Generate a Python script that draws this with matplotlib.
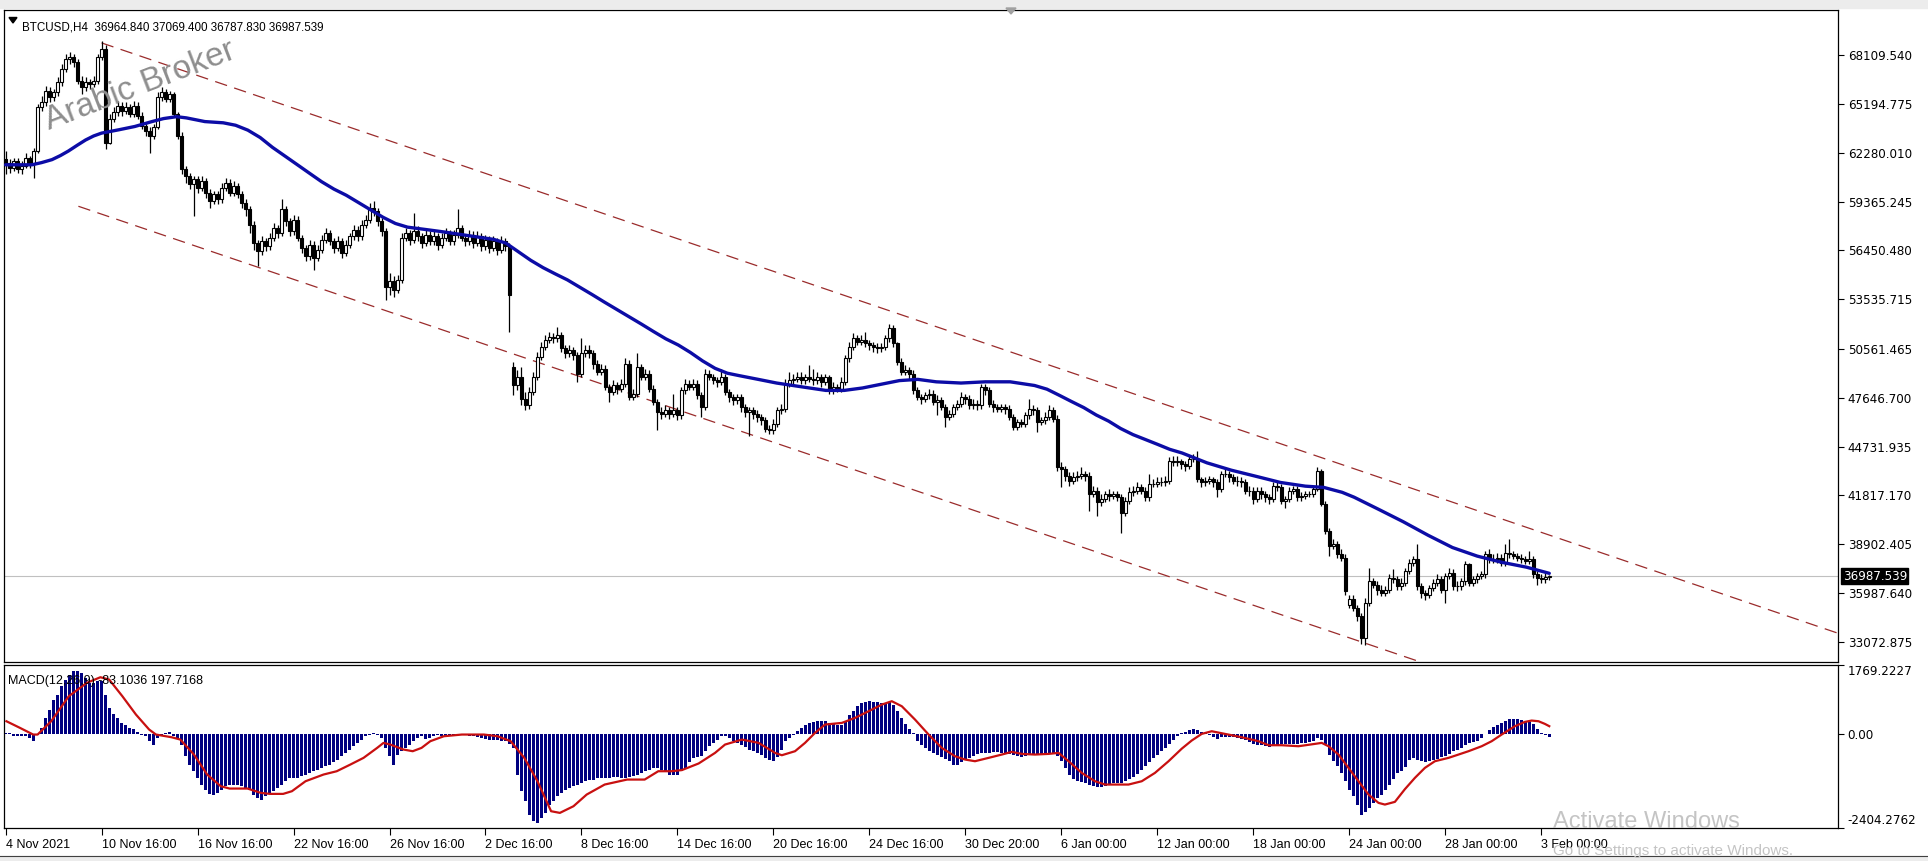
import matplotlib
matplotlib.use("Agg")
import matplotlib.pyplot as plt
import matplotlib.transforms as mtransforms
from matplotlib.patches import Rectangle, Polygon
import numpy as np

# ---------------- DATA ----------------
opens = [
61900, 61700, 61400, 61800, 61300, 61500, 61950, 61600, 62400, 65000,
65300, 66000, 65600, 65900, 66500, 67300, 67900, 68000, 67700, 66600,
66200, 66500, 66400, 66600, 68000, 68500, 62900, 64300, 64700, 65100,
64800, 65000, 64600, 65100, 64500, 63900, 63600, 63300, 63800, 65600,
65900, 65500, 65800, 64600, 63300, 61300, 60900, 60400, 60700, 60200,
60600, 59900, 59400, 59800, 59500, 60200, 60500, 59900, 60300, 59800,
59300, 58900, 58000, 56900, 56400, 57000, 56700, 57200, 57800, 57500,
58900, 58200, 57600, 58300, 57200, 56600, 56100, 56800, 56000, 56500,
57100, 57500, 57000, 56600, 57000, 56300, 56800, 57300, 57700, 57300,
58000, 58300, 59000, 58800, 58200, 57600, 54300, 54600, 54100, 54700,
57200, 57500, 57100, 57600, 57300, 56900, 57400, 57000, 57300, 56800,
57200, 57500, 57000, 57400, 57800, 57200, 57000, 57400, 56900, 57300,
56700, 57100, 56600, 57000, 56500, 57000, 56700, 49500, 48400, 48900,
47600, 47200, 48000, 48900, 50100, 50700, 51100, 51300, 51200, 51400,
50600, 50300, 50500, 50200, 49100, 50300, 50500, 50300, 49700, 49200,
49400, 48300, 48000, 48400, 48200, 48500, 49700, 47700, 47900, 49500,
48900, 49100, 48200, 47400, 46800, 46700, 46900, 46700, 46900, 46600,
48100, 48500, 48300, 48500, 47800, 47100, 49100, 48900, 48700, 48600,
48900, 48000, 47700, 47500, 47700, 47100, 46800, 46900, 46700, 46500,
46300, 45800, 45700, 46100, 46900, 47000, 48500, 48700, 48800, 48900,
48700, 48900, 48800, 48700, 48900, 48600, 48900, 48100, 48300, 48200,
48600, 50000, 50700, 51200, 51000, 51100, 50900, 50800, 50700, 50600,
50700, 51200, 51800, 50900, 49800, 49200, 49300, 49100, 48100, 47700,
47600, 47800, 47900, 47400, 47500, 47100, 46500, 46700, 47100, 47300,
47700, 47600, 47200, 47300, 47200, 48300, 48100, 47300, 47100, 47000,
47100, 47000, 46500, 45900, 46200, 46100, 46600, 47000, 46900, 46200,
46300, 46500, 46900, 46400, 43500, 43400, 43000, 42700, 42900, 43000,
43100, 43000, 41900, 42100, 41400, 41600, 41900, 41800, 41900, 41700,
40800, 41500, 42000, 42100, 42300, 42100, 41700, 42500, 42500, 42600,
42600, 42700, 43900, 43800, 43900, 43700, 43600, 44000, 44000, 42800,
42600, 42700, 42800, 42600, 42200, 43100, 43100, 42900, 42700, 42700,
42600, 42100, 42100, 41600, 42100, 41900, 41700, 41600, 42400, 42300,
41500, 41600, 42100, 42200, 41700, 41800, 41900, 41900, 42200, 43300,
41300, 39700, 38800, 38900, 38300, 38100, 35300, 35650, 35100, 34600,
33300, 35400, 36700, 36500, 36200, 36000, 36200, 36900, 36800, 36400,
36600, 37300, 37800, 38000, 36400, 36000, 35900, 36300, 36600, 36800,
36200, 37000, 37200, 36400, 36400, 36700, 37700, 36600, 36800, 37000,
37100, 38300, 38000, 38000, 38100, 37800, 38400, 38300, 38200, 38100,
38000, 37900, 38000, 37100, 36900, 36800, 36964.84]

highs = [
62400, 61900, 62000, 62000, 61800, 62300, 62100, 62600, 65200, 65700,
66300, 66200, 66100, 66800, 67600, 68200, 68300, 68200, 67900, 66900,
66800, 66700, 66900, 68200, 68950, 68700, 64600, 65000, 65400, 65300,
65300, 65200, 65400, 65300, 64700, 64100, 63800, 64000, 65900, 66200,
66100, 66000, 65900, 64700, 63500, 61500, 61100, 60900, 60900, 60900,
60800, 60100, 60000, 60000, 60500, 60800, 60700, 60600, 60500, 60000,
59500, 59100, 58200, 57100, 57300, 57200, 57500, 58100, 58000, 59500,
59100, 58400, 58600, 58500, 57400, 56800, 57100, 57000, 56800, 57400,
57800, 57700, 57200, 57300, 57200, 57100, 57500, 58000, 57900, 58300,
58600, 59300, 59400, 59000, 58400, 57800, 55100, 54900, 55000, 57500,
57800, 57700, 58700, 57900, 57500, 57700, 57600, 57600, 57500, 57500,
57800, 57700, 57700, 58900, 58000, 57400, 57700, 57600, 57600, 57500,
57400, 57300, 57300, 57200, 57300, 57200, 56900, 49800, 49300, 49500,
48000, 48300, 49200, 50400, 51000, 51400, 51600, 51500, 51900, 51600,
50800, 50800, 50700, 50400, 51200, 50800, 50800, 50500, 49900, 49700,
49600, 48500, 48700, 48600, 48800, 50000, 49900, 48200, 50300, 49700,
49400, 49300, 48400, 47600, 47100, 47200, 47100, 47850, 47100, 48300,
48800, 48700, 48750, 48700, 48000, 49400, 49300, 49100, 48900, 49350,
49100, 48200, 47900, 47900, 47900, 47300, 47100, 47100, 46900, 46700,
46500, 46000, 46400, 47100, 47300, 48800, 49200, 49100, 49200, 49200,
49100, 49600, 49400, 49200, 49100, 49100, 49000, 48600, 48500, 48900,
50200, 51000, 51500, 51400, 51400, 51600, 51100, 51000, 50900, 50900,
51400, 52050, 52000, 51000, 50000, 49600, 49500, 49300, 48300, 47900,
48000, 48200, 48100, 47800, 47700, 47300, 46900, 47300, 47500, 48000,
47900, 47800, 47600, 47500, 48500, 48500, 48300, 47500, 47300, 47300,
47300, 47200, 46700, 46400, 46400, 46800, 47600, 47200, 47100, 46500,
46800, 47200, 47100, 46600, 43800, 43600, 43200, 43200, 43300, 43500,
43300, 43200, 42400, 42300, 41900, 42100, 42200, 42100, 42100, 41900,
41700, 42300, 42400, 42600, 42500, 42300, 43080, 42800, 42900, 42900,
43000, 44100, 44200, 44200, 44000, 43900, 44200, 44300, 44450, 42900,
42900, 43000, 42900, 42800, 43300, 43400, 43300, 43100, 43000, 42900,
42800, 42400, 42300, 42300, 42300, 42100, 41900, 42600, 42600, 42500,
41800, 42300, 42400, 42400, 42000, 42100, 42100, 42400, 43500, 43400,
41500, 39900, 39200, 39100, 38600, 38300, 35900, 35900, 35300, 34800,
35700, 37500, 36900, 36700, 36500, 36400, 37100, 37400, 37000, 36900,
37500, 38000, 38200, 38900, 36600, 36200, 36500, 36800, 37100, 37000,
37200, 37500, 37400, 36700, 36900, 37900, 37800, 37000, 37200, 37300,
38500, 38600, 38300, 38400, 38300, 38900, 39200, 38500, 38400, 38300,
38200, 38500, 38200, 37300, 37100, 37200, 37069.4]

lows = [
61000, 61100, 61200, 61100, 61000, 61400, 61400, 60800, 62300, 64800,
65100, 65300, 65400, 65700, 66300, 67100, 67600, 67400, 66400, 65800,
66000, 66100, 66200, 66400, 67800, 62500, 62800, 64100, 64500, 64500,
64600, 64400, 64400, 64300, 63700, 63300, 62300, 63100, 63700, 65400,
65300, 65300, 64400, 63100, 61000, 60500, 60100, 58500, 59900, 60000,
59600, 59000, 59200, 59200, 59300, 60000, 59700, 59700, 59600, 59000,
58500, 57500, 56500, 55500, 56200, 56400, 56500, 57000, 57200, 57300,
57900, 57300, 57400, 57000, 56300, 55800, 55900, 55300, 55800, 56300,
56900, 56800, 56300, 56400, 56000, 56100, 56600, 57100, 57000, 57100,
57800, 58100, 58500, 57900, 57300, 53500, 53800, 53700, 53900, 54500,
57000, 56800, 56900, 57000, 56600, 56700, 56800, 56800, 56500, 56600,
57000, 56800, 56800, 57200, 57000, 56700, 56800, 56600, 56700, 56400,
56500, 56300, 56400, 56200, 56300, 56400, 51600, 47800, 48100, 47200,
46900, 47000, 47800, 48700, 49900, 50500, 50900, 50900, 51000, 50400,
50000, 50100, 49900, 48600, 48900, 50100, 50000, 49400, 49000, 49000,
48100, 47400, 47800, 47900, 48000, 48300, 47500, 47500, 47700, 48700,
48700, 48000, 47200, 45700, 46400, 46500, 46400, 46500, 46300, 46400,
47900, 48100, 48100, 47600, 46500, 46900, 48700, 48500, 48300, 48400,
47800, 47400, 47200, 47300, 46800, 46500, 45400, 46400, 46200, 46000,
45600, 45500, 45500, 45900, 46700, 46800, 48300, 48500, 48600, 48500,
48500, 48600, 48400, 48500, 48300, 48400, 47900, 47900, 48000, 48000,
48400, 49800, 50500, 50800, 50800, 50700, 50500, 50400, 50300, 50400,
50500, 51000, 50700, 49600, 49000, 49000, 48800, 47900, 47500, 47300,
47400, 47600, 47200, 46600, 46900, 45900, 46300, 46500, 46900, 47100,
47300, 47000, 47000, 46900, 47000, 47800, 47100, 46800, 46800, 46800,
46700, 46300, 45700, 45700, 45900, 45900, 46400, 46600, 45600, 46000,
46100, 46300, 46200, 43300, 42300, 42700, 42400, 42500, 42700, 42800,
42700, 40900, 41700, 40600, 41200, 41400, 41500, 41600, 41500, 39600,
40600, 41300, 41800, 41900, 41900, 41500, 41500, 42300, 42300, 42400,
42400, 42500, 43600, 43600, 43400, 43300, 43400, 43800, 42600, 42300,
42400, 42500, 42300, 41700, 42000, 42900, 42600, 42500, 42400, 42300,
41900, 41800, 41300, 41400, 41600, 41400, 41300, 41400, 42100, 41300,
41100, 41400, 41900, 41500, 41500, 41600, 41700, 41700, 42100, 41200,
39500, 38200, 38600, 38100, 37900, 35900, 35100, 34900, 34300, 32950,
32900, 35200, 36300, 35850, 35800, 35800, 36000, 36600, 36200, 36200,
36400, 37100, 37600, 36200, 35700, 35600, 35700, 36100, 36400, 36000,
35400, 36800, 36200, 36100, 36200, 36500, 36400, 36400, 36600, 36800,
36900, 37800, 37800, 37800, 37600, 37600, 38100, 38000, 37900, 37800,
37700, 37700, 36900, 36500, 36600, 36600, 36787.83]

closes = [
61700, 61400, 61800, 61300, 61500, 61950, 61600, 62400, 65000, 65300,
66000, 65600, 65900, 66500, 67300, 67900, 68000, 67700, 66600, 66200,
66500, 66400, 66600, 68000, 68500, 62900, 64300, 64700, 65100, 64800,
65000, 64600, 65100, 64500, 63900, 63600, 63300, 63800, 65600, 65900,
65500, 65800, 64600, 63300, 61300, 60900, 60400, 60700, 60200, 60600,
59900, 59400, 59800, 59500, 60200, 60500, 59900, 60300, 59800, 59300,
58900, 58000, 56900, 56400, 57000, 56700, 57200, 57800, 57500, 58900,
58200, 57600, 58300, 57200, 56600, 56100, 56800, 56000, 56500, 57100,
57500, 57000, 56600, 57000, 56300, 56800, 57300, 57700, 57300, 58000,
58300, 59000, 58800, 58200, 57600, 54300, 54600, 54100, 54700, 57200,
57500, 57100, 57600, 57300, 56900, 57400, 57000, 57300, 56800, 57200,
57500, 57000, 57400, 57800, 57200, 57000, 57400, 56900, 57300, 56700,
57100, 56600, 57000, 56500, 57000, 56700, 53800, 48400, 48900, 47600,
47200, 48000, 48900, 50100, 50700, 51100, 51300, 51200, 51400, 50600,
50300, 50500, 50200, 49100, 50300, 50500, 50300, 49700, 49200, 49400,
48300, 48000, 48400, 48200, 48500, 49700, 47700, 47900, 49500, 48900,
49100, 48200, 47400, 46800, 46700, 46900, 46700, 46900, 46600, 48100,
48500, 48300, 48500, 47800, 47100, 49100, 48900, 48700, 48600, 48900,
48000, 47700, 47500, 47700, 47100, 46800, 46900, 46700, 46500, 46300,
45800, 45700, 46100, 46900, 47000, 48500, 48700, 48800, 48900, 48700,
48900, 48800, 48700, 48900, 48600, 48900, 48100, 48300, 48200, 48600,
50000, 50700, 51200, 51000, 51100, 50900, 50800, 50700, 50600, 50700,
51200, 51800, 50900, 49800, 49200, 49300, 49100, 48100, 47700, 47600,
47800, 47900, 47400, 47500, 47100, 46500, 46700, 47100, 47300, 47700,
47600, 47200, 47300, 47200, 48300, 48100, 47300, 47100, 47000, 47100,
47000, 46500, 45900, 46200, 46100, 46600, 47000, 46900, 46200, 46300,
46500, 46900, 46400, 43500, 43400, 43000, 42700, 42900, 43000, 43100,
43000, 41900, 42100, 41400, 41600, 41900, 41800, 41900, 41700, 40800,
41500, 42000, 42100, 42300, 42100, 41700, 42500, 42500, 42600, 42600,
42700, 43900, 43800, 43900, 43700, 43600, 44000, 44000, 42800, 42600,
42700, 42800, 42600, 42200, 43100, 43100, 42900, 42700, 42700, 42600,
42100, 42100, 41600, 42100, 41900, 41700, 41600, 42400, 42300, 41500,
41600, 42100, 42200, 41700, 41800, 41900, 41900, 42200, 43300, 41300,
39700, 38800, 38900, 38300, 38100, 36100, 35650, 35100, 34600, 33300,
35400, 36700, 36500, 36200, 36000, 36200, 36900, 36800, 36400, 36600,
37300, 37800, 38000, 36400, 36000, 35900, 36300, 36600, 36800, 36200,
37000, 37200, 36400, 36400, 36700, 37700, 36600, 36800, 37000, 37100,
38300, 38000, 38000, 38100, 37800, 38400, 38300, 38200, 38100, 38000,
37900, 38000, 37100, 36900, 36800, 36965, 36987.539]

# blue moving average (bar index, price)
ma_idx = [0, 3, 6.6, 9, 11.6, 13.7, 15.7, 18, 20, 22, 24, 28.3, 32.3, 36.6,
          39.5, 42.75, 45.21, 49.82, 54.43, 57.51, 60.58, 63.66, 66.73, 69.81,
          72.88, 75.95, 79.03, 82.10, 85.17, 88.25, 91.32, 94.40, 97.47, 100.5,
          105.2, 109.8, 115.9, 122.1, 125.1, 128.2, 131.3, 134.4, 137.4, 140.5,
          143.6, 146.7, 149.7, 152.8, 155.9, 159.0, 162.0, 165.1, 168.2, 171.2,
          174.3, 177.4, 180.5, 183.5, 188.2, 192.8, 198.9, 205.1, 209.7, 214.3,
          218.9, 223.5, 228.1, 232.7, 238.9, 245.0, 251.2, 257.3, 260.4, 263.5,
          266.5, 269.6, 272.7, 275.8, 278.8, 281.9, 285.0, 288.1, 291.1, 294.2,
          297.3, 300.4, 306.5, 312.7, 318.8, 325.0, 329.6, 334.2, 337.2, 340.3,
          343.4, 349.5, 355.7, 361.8, 368.0, 374.1, 380.3, 386]
ma_val = [61570, 61570, 61570, 61700, 61878, 62120, 62391, 62750, 63051, 63290,
          63462, 63660, 63857, 64151, 64330, 64444, 64371, 64151, 64077, 63931,
          63638, 63198, 62611, 62098, 61585, 61071, 60558, 60118, 59752, 59312,
          58872, 58432, 58065, 57845, 57699, 57552, 57332, 57112, 56892, 56379,
          55866, 55426, 55059, 54693, 54253, 53813, 53373, 52933, 52493, 52053,
          51613, 51173, 50806, 50366, 49853, 49413, 49120, 48973, 48753, 48534,
          48314, 48094, 48094, 48240, 48460, 48680, 48753, 48607, 48534, 48607,
          48607, 48387, 48167, 47800, 47434, 47067, 46627, 46261, 45821, 45454,
          45161, 44867, 44574, 44354, 44061, 43768, 43328, 42961, 42595, 42375,
          42301, 42008, 41715, 41348, 40982, 40248, 39442, 38709, 38196, 37829,
          37536, 37169]

# MACD histogram (main line), one value per bar
macd_hist = [
26, 20, -60, -60, -60, -60, -100, -190, -17, 154,
411, 625, 882, 1010, 1224, 1395, 1524, 1609, 1609, 1566,
1438, 1310, 1310, 1352, 1352, 1010, 668, 514, 411, 282,
223, 154, 137, 51, -17, -60, -188, -274, -103, -17,
10, 43, -60, -103, -274, -574, -788, -959, -1130, -1301,
-1430, -1541, -1575, -1515, -1430, -1344, -1301, -1301, -1301, -1344,
-1387, -1430, -1558, -1644, -1686, -1601, -1515, -1472, -1387, -1301,
-1216, -1130, -1130, -1130, -1087, -1044, -1002, -959, -916, -873,
-830, -788, -719, -659, -574, -488, -402, -317, -231, -146,
-60, -17, 26, -17, -103, -360, -574, -788, -531, -445,
-360, -274, -188, -103, -60, -120, -103, -60, -34, -60,
-60, -43, -34, -17, -34, -17, -43, -60, -86, -103,
-120, -146, -146, -146, -171, -188, -257, -360, -1044, -1472,
-1729, -2072, -2243, -2286, -2157, -2029, -1815, -1729, -1601, -1515,
-1430, -1387, -1344, -1301, -1258, -1216, -1173, -1173, -1130, -1130,
-1130, -1130, -1113, -1113, -1130, -1130, -1113, -1087, -1061, -1002,
-959, -916, -873, -873, -916, -959, -1044, -1061, -1044, -950,
-880, -720, -620, -590, -570, -445, -317, -231, -146, -60,
-60, -103, -171, -231, -274, -334, -402, -445, -488, -531,
-616, -659, -685, -600, -402, -188, -103, -34, 68, 154,
223, 282, 308, 325, 342, 325, 282, 257, 240, 240,
325, 479, 582, 710, 796, 830, 839, 822, 813, 788,
796, 822, 753, 582, 411, 257, 128, 17, -188, -291,
-360, -428, -488, -548, -600, -642, -702, -788, -788, -719,
-668, -616, -565, -514, -488, -488, -480, -471, -471, -480,
-488, -514, -548, -574, -600, -574, -548, -531, -531, -531,
-531, -514, -488, -574, -702, -873, -1044, -1147, -1216, -1233,
-1258, -1318, -1344, -1370, -1370, -1344, -1301, -1267, -1258, -1258,
-1216, -1164, -1104, -1019, -916, -830, -719, -616, -531, -445,
-360, -248, -146, -60, 10, 51, 103, 137, 94, 51,
26, -17, -68, -120, -86, -68, -77, -86, -103, -120,
-146, -205, -248, -274, -291, -317, -342, -308, -274, -257,
-257, -257, -257, -257, -231, -231, -214, -180, -103, -146,
-257, -531, -702, -830, -1002, -1198, -1430, -1601, -1815, -2072,
-2012, -1900, -1772, -1644, -1558, -1430, -1301, -1147, -1002, -959,
-856, -659, -616, -659, -702, -719, -702, -659, -634, -600,
-574, -514, -445, -402, -360, -291, -240, -205, -171, -103,
-10, 94, 171, 240, 282, 325, 377, 394, 385, 368,
342, 300, 257, 137, 34, -26, -83.1036]

# MACD signal line (bar index, value)
sig_idx = [0.2, 3.6, 6.9, 8.0, 11.4, 15.8, 20.3, 23.7, 25.9, 29.2, 32.6, 35.9,
           37.6, 41.5, 43.7, 47.1, 50.4, 53.8, 56.0, 60.5, 63.8, 66.1, 69.4,
           71.6, 75.0, 79.5, 82.8, 86.2, 89.5, 92.9, 94.5, 96.2, 99.5, 101.8,
           104.0, 106.2, 109.6, 114.1, 119.6, 123.0, 126.3, 129.7, 133.0, 136.4,
           138.6, 142.0, 145.3, 149.8, 155.4, 159.8, 163.2, 166.5, 169.1, 173.3,
           177.4, 179.9, 184.1, 188.3, 192.4, 194.1, 197.4, 199.9, 202.4, 204.9,
           209.1, 212.4, 215.8, 219.1, 221.6, 224.1, 227.4, 230.8, 234.1, 237.4,
           239.9, 242.4, 245.8, 249.1, 251.6, 254.1, 257.4, 260.8, 263.3, 265.8,
           269.1, 272.4, 274.9, 280.8, 284.1, 287.4, 290.8, 294.1, 296.6, 299.1,
           301.6, 304.9, 309.1, 313.3, 315.8, 319.1, 323.3, 327.4, 329.1, 330.8,
           333.3, 335.8, 338.3, 340.8, 343.3, 344.9, 347.4, 349.9, 352.4, 354.9,
           357.4, 360.8, 363.3, 365.8, 369.1, 371.6, 374.1, 377.4, 379.9, 381.6,
           383.3, 384.9, 386.0]
sig_val = [325, 154, -17, -17, 325, 967, 1310, 1455, 1395, 967, 496, 111,
           -17, -86, -146, -531, -1044, -1344, -1404, -1404, -1515, -1541, -1541,
           -1472, -1216, -1044, -959, -788, -616, -360, -231, -274, -402, -445,
           -360, -188, -60, -17, -17, -60, -188, -616, -1216, -1986,
           -2029, -1858, -1558, -1301, -1173, -1173, -959, -959, -930, -760,
           -488, -274, -146, -231, -488, -548, -445, -231, 26, 240,
           282, 411, 582, 753, 839, 710, 368, -17, -360, -574,
           -659, -702, -616, -531, -462, -514, -531, -514, -488, -702,
           -1002, -1216, -1301, -1301, -1216, -1002, -702, -380, -170, 0,
           68, 0, -86, -188, -291, -291, -317, -257, -231, -317,
           -531, -873, -1216, -1558, -1772, -1815, -1746, -1420, -1130, -873,
           -702, -616, -531, -445, -317, -188, -17, 197, 308, 342,
           325, 257, 197.7168]

# dashed channel lines: two anchor points each (bar index, price)
upper_line_idx = [24, 447]
upper_line_val = [68850, 34500]
lower_line_idx = [18.2, 351.6]
lower_line_val = [59092, 32052]

price_tick_vals = [68109.540, 65194.775, 62280.010, 59365.245, 56450.480,
                   53535.715, 50561.465, 47646.700, 44731.935, 41817.170,
                   38902.405, 35987.640, 33072.875]
price_tick_labels = ["68109.540", "65194.775", "62280.010", "59365.245",
                     "56450.480", "53535.715", "50561.465", "47646.700",
                     "44731.935", "41817.170", "38902.405", "35987.640",
                     "33072.875"]
macd_tick_vals = [1769.2227, 0.0, -2404.2762]
macd_tick_labels = ["1769.2227", "0.00", "-2404.2762"]

date_tick_bars = [0, 24, 48, 72, 96, 120, 144, 168, 192, 216, 240, 264, 288,
                  312, 336, 360, 384]
date_tick_labels = ["4 Nov 2021", "10 Nov 16:00", "16 Nov 16:00", "22 Nov 16:00",
                    "26 Nov 16:00", "2 Dec 16:00", "8 Dec 16:00", "14 Dec 16:00",
                    "20 Dec 16:00", "24 Dec 16:00", "30 Dec 20:00", "6 Jan 00:00",
                    "12 Jan 00:00", "18 Jan 00:00", "24 Jan 00:00", "28 Jan 00:00",
                    "3 Feb 00:00"]

last_price = 36987.539
last_price_label = "36987.539"
header_text = "BTCUSD,H4  36964.840 37069.400 36787.830 36987.539"
macd_text = "MACD(12,26,9) -83.1036 197.7168"
watermark_text = "Arabic Broker"

# ---------------- FIGURE ----------------
W, H = 1928, 861
fig = plt.figure(figsize=(W / 100, H / 100), dpi=100, facecolor="white")


def fx(px):
    return px / W


def fy(py):
    return 1 - py / H


XMIN, XMAX = -0.4, 458.2
ax = fig.add_axes([fx(4), fy(661.5), fx(1838) - fx(4), fy(10) - fy(661.5)])
ax2 = fig.add_axes([fx(4), fy(827.5), fx(1838) - fx(4), fy(665) - fy(827.5)])

for a in (ax, ax2):
    a.set_facecolor("white")
    a.set_xlim(XMIN, XMAX)
    for s in a.spines.values():
        s.set_linewidth(0.9)
        s.set_color("black")

ax.set_ylim(31902, 70815)
ax2.set_ylim(-2404.2762, 1769.2227)

# ---- candles ----
o = np.array(opens, dtype=float)
h = np.array(highs, dtype=float)
l = np.array(lows, dtype=float)
c = np.array(closes, dtype=float)
idx = np.arange(len(c))
up = c >= o

ax.axhline(last_price, color="#c0c0c0", lw=0.8, zorder=1)
ax.vlines(idx, l, h, color="black", lw=0.9, zorder=3)
ax.bar(idx[up], np.maximum((c - o)[up], 1.0), bottom=o[up], width=0.62,
       color="white", edgecolor="black", linewidth=0.8, zorder=4)
ax.bar(idx[~up], (o - c)[~up], bottom=c[~up], width=0.62,
       color="black", edgecolor="black", linewidth=0.8, zorder=4)

# ---- moving average ----
ax.plot(ma_idx, ma_val, color="#0c0ca6", lw=2.4, zorder=5,
        solid_capstyle="round", solid_joinstyle="round")


# ---- channel (rays to the right edge) ----
def ray(ix, iv, xend):
    slope = (iv[1] - iv[0]) / (ix[1] - ix[0])
    return [ix[0], xend], [iv[0], iv[0] + slope * (xend - ix[0])]


for ix, iv in ((upper_line_idx, upper_line_val), (lower_line_idx, lower_line_val)):
    xs, ys = ray(ix, iv, XMAX)
    ax.plot(xs, ys, color="#9a2b2b", lw=0.9, dashes=(10, 6), zorder=2)

# ---- price axis ----
ax.set_xticks([])
ax.yaxis.tick_right()
ax.set_yticks(price_tick_vals)
ax.set_yticklabels(price_tick_labels)
ax.tick_params(axis="y", direction="out", length=4, width=0.8, pad=3,
               labelsize=8.6, labelcolor="black")

# current price box
trans = mtransforms.blended_transform_factory(ax.transAxes, ax.transData)
ax.text(1.0025, last_price, last_price_label, transform=trans, ha="left",
        va="center", fontsize=8.6, color="white", zorder=10, clip_on=False,
        bbox=dict(boxstyle="square,pad=0.12", fc="black", ec="black"))

# ---- MACD ----
ax2.bar(idx, macd_hist, width=0.75, color="#000080", zorder=2)
ax2.plot(sig_idx, sig_val, color="#c81010", lw=1.6, zorder=3,
         solid_joinstyle="round")

ax2.yaxis.tick_right()
ax2.set_yticks(macd_tick_vals)
ax2.set_yticklabels(macd_tick_labels)
ax2.tick_params(axis="y", direction="out", length=4, width=0.8, pad=3,
                labelsize=8.6)
ylabels = ax2.get_yticklabels()
ylabels[0].set_va("top")
ylabels[2].set_va("bottom")

ax2.set_xticks(date_tick_bars)
ax2.set_xticklabels(date_tick_labels, family="Liberation Sans", fontsize=9)
for t in ax2.get_xticklabels():
    t.set_ha("left")
ax2.tick_params(axis="x", direction="out", length=5, width=0.8, pad=3)

# ---- texts ----
ax.text(0.0098, 0.983, header_text, transform=ax.transAxes, ha="left", va="top",
        fontsize=8.4, family="Liberation Sans", color="black", zorder=10)
tri = Polygon([[fx(9), fy(17.5)], [fx(17), fy(17.5)], [fx(13), fy(23)]],
              closed=True, transform=fig.transFigure, color="black")
fig.patches.append(tri)

ax2.text(0.0022, 0.94, macd_text, transform=ax2.transAxes, ha="left", va="top",
         fontsize=9, family="Liberation Sans", color="black", zorder=10)

fig.text(fx(140), fy(86), watermark_text, rotation=21, ha="center", va="center",
         fontsize=24, family="Liberation Sans", color="#8e8e8e", zorder=20)

# chart-shift marker at the top
mark = Polygon([[fx(1006), fy(8)], [fx(1016), fy(8)], [fx(1011), fy(14)]],
               closed=True, transform=fig.transFigure, color="#a0a0a0", zorder=30)
fig.patches.append(mark)

# window chrome strips (top and bottom)
fig.patches.append(Rectangle((0, fy(8)), 1, 8 / H, transform=fig.transFigure,
                             color="#ececec", zorder=0))
fig.patches.append(Rectangle((0, 0), 1, 5 / H, transform=fig.transFigure,
                             color="#ececec", zorder=0))
fig.add_artist(plt.Line2D([0, 1], [fy(856), fy(856)], transform=fig.transFigure,
                          color="#404040", lw=0.8))

# Windows activation watermark
fig.text(fx(1553), fy(822), "Activate Windows", ha="left", va="center",
         fontsize=17, family="Liberation Sans", color="#c4c4c4", zorder=40)
fig.text(fx(1553), fy(851), "Go to Settings to activate Windows.", ha="left",
         va="center", fontsize=11, family="Liberation Sans", color="#c4c4c4",
         zorder=40)

fig.savefig("out.png", dpi=100, facecolor="white")
